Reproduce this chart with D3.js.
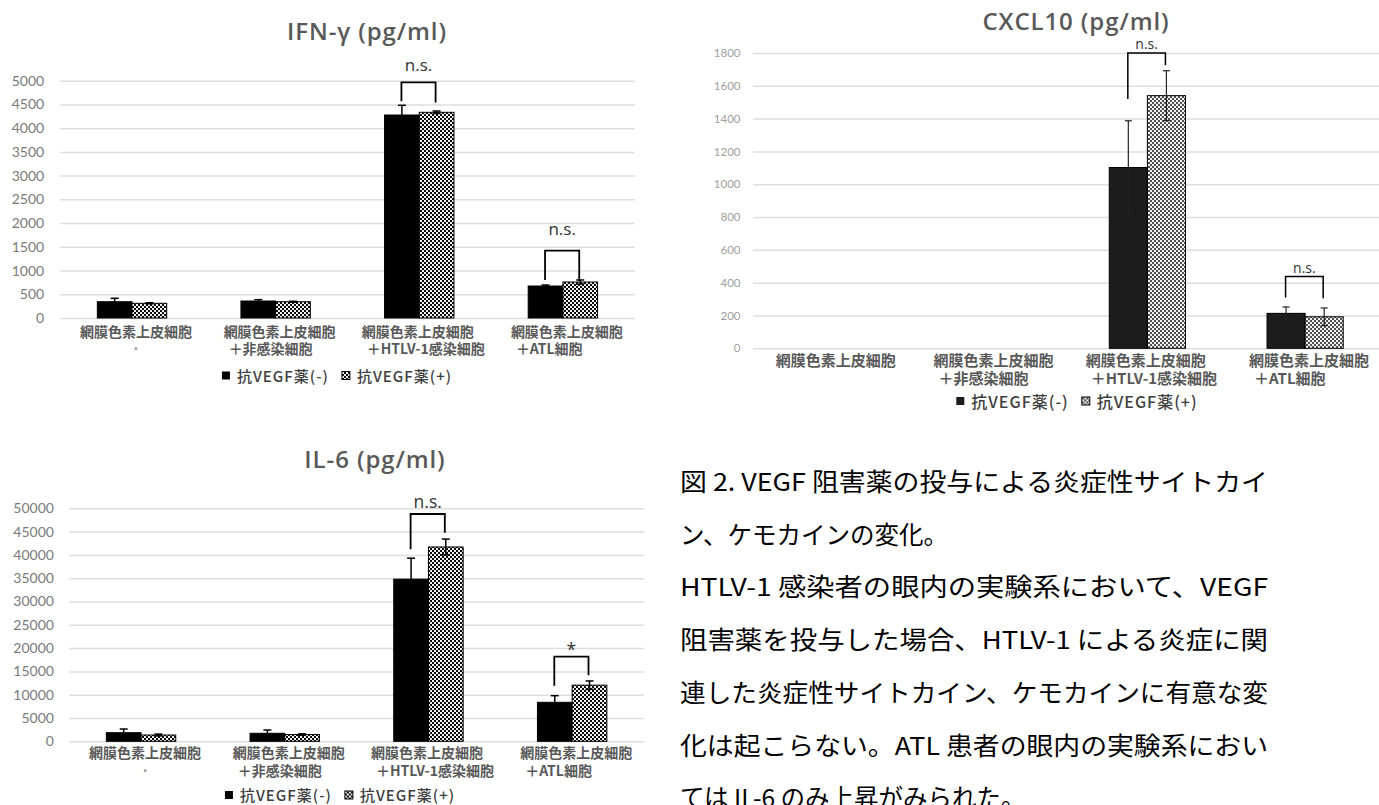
<!DOCTYPE html>
<html>
<head>
<meta charset="utf-8">
<script src="https://cdn.jsdelivr.net/npm/d3@7"></script>
<style>
  html, body { margin: 0; padding: 0; background: #fff; }
  svg { display: block; }
</style>
</head>
<body>
<svg id="fig" width="1379" height="805"></svg>
<script>
// ---- data ----------------------------------------------------------
const seriesNames = ["抗VEGF薬(-)", "抗VEGF薬(+)"];

const categoriesDotted = [
  ["網膜色素上皮細胞", "·"],
  ["網膜色素上皮細胞", "＋非感染細胞"],
  ["網膜色素上皮細胞", "＋HTLV-1感染細胞"],
  ["網膜色素上皮細胞", "＋ATL細胞"]
];
const categories = [
  ["網膜色素上皮細胞"],
  ["網膜色素上皮細胞", "＋非感染細胞"],
  ["網膜色素上皮細胞", "＋HTLV-1感染細胞"],
  ["網膜色素上皮細胞", "＋ATL細胞"]
];

// IFN-γ
const ifnTicks = [0, 500, 1000, 1500, 2000, 2500, 3000, 3500, 4000, 4500, 5000];
const ifnNoDrug = [343, 358, 4277, 674];
const ifnNoDrugErr = [72, 28, 205, 21];
const ifnDrug = [310, 343, 4334, 758];
const ifnDrugErr = [12, 10, 27, 43];
const ifnSig = ["", "", "n.s.", "n.s."];
const ifnBracketTop = [0, 0, 4966, 1418];
const ifnBracketLeft = [0, 0, 4566, 800];
const ifnBracketRight = [0, 0, 4540, 780];

// CXCL10
const cxclTicks = [0, 200, 400, 600, 800, 1000, 1200, 1400, 1600, 1800];
const cxclNoDrug = [0, 0, 1102, 213];
const cxclNoDrugErr = [0, 0, 285, 39];
const cxclDrug = [0, 0, 1540, 192];
const cxclDrugErr = [0, 0, 152, 54];
const cxclSig = ["", "", "n.s.", "n.s."];
const cxclBracketTop = [0, 0, 1800, 437];
const cxclBracketLeft = [0, 0, 1520, 309];
const cxclBracketRight = [0, 0, 1725, 305];

// IL-6
const il6Ticks = [0, 5000, 10000, 15000, 20000, 25000, 30000, 35000, 40000, 45000, 50000];
const il6NoDrug = [1850, 1720, 34800, 8370];
const il6NoDrugErr = [790, 700, 4500, 1420];
const il6Drug = [1350, 1450, 41700, 12050];
const il6DrugErr = [200, 150, 1700, 900];
const il6Sig = ["", "", "n.s.", "*"];
const il6BracketTop = [0, 0, 48780, 18150];
const il6BracketLeft = [0, 0, 41200, 11930];
const il6BracketRight = [0, 0, 44760, 14160];

const captionLines = [
  "図 2. VEGF 阻害薬の投与による炎症性サイトカイ",
  "ン、ケモカインの変化。",
  "HTLV-1 感染者の眼内の実験系において、VEGF",
  "阻害薬を投与した場合、HTLV-1 による炎症に関",
  "連した炎症性サイトカイン、ケモカインに有意な変",
  "化は起こらない。ATL 患者の眼内の実験系におい",
  "ては IL-6 のみ上昇がみられた。"
];

// ---- drawing -------------------------------------------------------
const CJK = "'Noto Sans CJK JP', 'Noto Sans', sans-serif";
const svg = d3.select("#fig");
svg.append("rect").attr("width", 1379).attr("height", 805).attr("fill", "#fff");
const defs = svg.append("defs");

// small checker fill used for the "with drug" bars
function makePattern(id, dark) {
  const p = defs.append("pattern").attr("id", id)
    .attr("patternUnits", "userSpaceOnUse").attr("width", 4).attr("height", 4);
  p.append("rect").attr("width", 4).attr("height", 4).attr("fill", dark);
  p.append("rect").attr("x", 0).attr("y", 0).attr("width", 2).attr("height", 2).attr("fill", "#f2f2f2");
  p.append("rect").attr("x", 2).attr("y", 2).attr("width", 2).attr("height", 2).attr("fill", "#f2f2f2");
}
makePattern("dotsDark", "#0a0a0a");
makePattern("dotsLight", "#505050");

const charts = [
  {
    title: "IFN-γ (pg/ml)", titleX: 367, titleY: 40,
    categories: categoriesDotted, ticks: ifnTicks,
    noDrug: ifnNoDrug, noDrugErr: ifnNoDrugErr, drug: ifnDrug, drugErr: ifnDrugErr,
    sig: ifnSig, brTop: ifnBracketTop, brLeft: ifnBracketLeft, brRight: ifnBracketRight,
    sigLift: [0, 0, 11, 16], sigSize: 17,
    xRange: [60.2, 634.7], yRange: [318, 80.7], gridRight: 634.7,
    tickPad: 16, tickSize: 14, tickColor: "#7a7a7a",
    labelSize: 14, labelBase: [337, 353.5],
    solid: "#000", pattern: "dotsDark", errColor: "#000", errWidth: 1.5, capW: 8,
    legendX: 337, legendY: 376, legendSize: 15
  },
  {
    title: "CXCL10 (pg/ml)", titleX: 1076, titleY: 30,
    categories: categories, ticks: cxclTicks,
    noDrug: cxclNoDrug, noDrugErr: cxclNoDrugErr, drug: cxclDrug, drugErr: cxclDrugErr,
    sig: cxclSig, brTop: cxclBracketTop, brLeft: cxclBracketLeft, brRight: cxclBracketRight,
    sigLift: [0, 0, 4, 4], sigSize: 14,
    xRange: [753, 1384], yRange: [348.3, 53], gridRight: 1384,
    tickPad: 12.5, tickSize: 11.5, tickColor: "#a0a0a0",
    labelSize: 15, labelBase: [365.7, 384],
    solid: "#1c1c1c", pattern: "dotsLight", errColor: "#222", errWidth: 1.2, capW: 7,
    legendX: 1077, legendY: 401.5, legendSize: 16
  },
  {
    title: "IL-6 (pg/ml)", titleX: 375, titleY: 468,
    categories: categoriesDotted, ticks: il6Ticks,
    noDrug: il6NoDrug, noDrugErr: il6NoDrugErr, drug: il6Drug, drugErr: il6DrugErr,
    sig: il6Sig, brTop: il6BracketTop, brLeft: il6BracketLeft, brRight: il6BracketRight,
    sigLift: [0, 0, 6, 1], sigSize: 17.5,
    xRange: [69.2, 644], yRange: [741.3, 508.3], gridRight: 644,
    tickPad: 15.3, tickSize: 14, tickColor: "#7a7a7a",
    labelSize: 14, labelBase: [758.3, 775.5],
    solid: "#000", pattern: "dotsDark", errColor: "#000", errWidth: 1.5, capW: 8,
    legendX: 340, legendY: 795.5, legendSize: 15
  }
];

function drawChart(c) {
  const g = svg.append("g");
  const x0 = d3.scaleBand().domain(d3.range(c.categories.length)).range(c.xRange);
  const x1 = d3.scaleBand().domain([0, 1]).range([0, x0.bandwidth()]).paddingOuter(1.07);
  const y = d3.scaleLinear().domain([0, c.ticks[c.ticks.length - 1]]).range(c.yRange);

  // gridlines and value labels
  const axis = d3.axisLeft(y).tickValues(c.ticks)
    .tickSize(-(c.gridRight - c.xRange[0])).tickPadding(c.tickPad)
    .tickFormat(d3.format("d"));
  const ag = g.append("g").attr("transform", `translate(${c.xRange[0]},0)`).call(axis);
  ag.select(".domain").remove();
  ag.selectAll(".tick line").attr("stroke", "#dedede").attr("stroke-width", 1.5);
  ag.selectAll(".tick text").attr("fill", c.tickColor)
    .style("font-family", "Lato, 'Open Sans', sans-serif").style("font-size", c.tickSize + "px");

  // title
  svg.append("text").attr("x", c.titleX).attr("y", c.titleY)
    .attr("text-anchor", "middle").attr("fill", "#595959")
    .style("font-family", "'Open Sans', sans-serif").style("font-weight", 600)
    .style("font-size", "24px").style("letter-spacing", "0.9px")
    .text(c.title);

  const series = [
    { vals: c.noDrug, errs: c.noDrugErr, fill: c.solid },
    { vals: c.drug, errs: c.drugErr, fill: `url(#${c.pattern})` }
  ];
  const bw = x1.bandwidth();

  series.forEach((s, si) => {
    const rows = s.vals.map((v, i) => ({ i, v, e: s.errs[i] })).filter(d => d.v > 0);
    g.selectAll(null).data(rows).join("rect")
      .attr("x", d => x0(d.i) + x1(si))
      .attr("y", d => y(d.v))
      .attr("width", bw)
      .attr("height", d => y(0) - y(d.v))
      .attr("fill", s.fill)
      .attr("stroke", "#000").attr("stroke-width", 1);
  });

  // error bars
  series.forEach((s, si) => {
    const rows = s.vals.map((v, i) => ({ i, v, e: s.errs[i] })).filter(d => d.v > 0 && d.e > 0);
    const eg = g.selectAll(null).data(rows).join("g")
      .attr("stroke", c.errColor).attr("stroke-width", c.errWidth);
    const cx = d => x0(d.i) + x1(si) + bw / 2;
    eg.append("line").attr("x1", cx).attr("x2", cx)
      .attr("y1", d => y(Math.max(0, d.v - d.e))).attr("y2", d => y(d.v + d.e));
    eg.append("line").attr("x1", d => cx(d) - c.capW / 2).attr("x2", d => cx(d) + c.capW / 2)
      .attr("y1", d => y(d.v + d.e)).attr("y2", d => y(d.v + d.e));
    eg.append("line").attr("x1", d => cx(d) - c.capW / 2).attr("x2", d => cx(d) + c.capW / 2)
      .attr("y1", d => y(Math.max(0, d.v - d.e))).attr("y2", d => y(Math.max(0, d.v - d.e)));
  });

  // significance brackets
  c.sig.forEach((label, i) => {
    if (!label) return;
    const xl = x0(i) + x1(0) + bw / 2 - 0.5;
    const xr = x0(i) + x1(1) + bw / 2 - 1;
    g.append("path")
      .attr("d", `M${xl},${y(c.brLeft[i])}V${y(c.brTop[i])}H${xr}V${y(c.brRight[i])}`)
      .attr("fill", "none").attr("stroke", "#000").attr("stroke-width", c.errWidth + 0.3);
    g.append("text").attr("x", (xl + xr) / 2).attr("y", y(c.brTop[i]) - c.sigLift[i])
      .attr("text-anchor", "middle").attr("fill", "#333")
      .style("font-family", "'Open Sans', sans-serif").style("font-size", c.sigSize + "px")
      .text(label);
  });

  // category labels: a left-aligned block of lines centred on its band
  c.categories.forEach((lines, i) => {
    const center = x0(i) + x0.bandwidth() / 2 + 4;
    const nodes = lines.map((ln, li) => g.append("text")
      .attr("y", c.labelBase[li]).attr("fill", lines[li].length === 1 ? "#9a9a9a" : "#595959")
      .style("font-family", CJK).style("font-weight", 700)
      .style("font-size", c.labelSize + "px").text(ln));
    const widths = nodes.map((t, li) =>
      lines[li].length === 1 ? 0 : t.node().getComputedTextLength() + (li > 0 ? 5 : 0));
    const left = center - d3.max(widths) / 2;
    nodes.forEach((t, li) => {
      if (lines[li].length === 1) t.attr("x", center).attr("text-anchor", "middle");
      else t.attr("x", left + (li > 0 ? 5 : 0));
    });
  });

  // legend
  const lg = svg.append("g");
  const sq = 8, gap = 7, itemGap = 13;
  let pos = 0;
  seriesNames.forEach((name, si) => {
    lg.append("rect").attr("x", pos).attr("y", -sq / 2 - 0.5).attr("width", sq).attr("height", sq)
      .attr("fill", si === 0 ? c.solid : `url(#${c.pattern})`)
      .attr("stroke", "#000").attr("stroke-width", si === 0 ? 0 : 1);
    const t = lg.append("text").attr("x", pos + sq + gap).attr("y", c.legendSize * 0.38)
      .attr("fill", "#404040")
      .style("font-family", CJK).style("font-weight", 500)
      .style("font-size", c.legendSize + "px").style("letter-spacing", "1px")
      .text(name);
    pos += sq + gap + t.node().getComputedTextLength() + itemGap;
  });
  const total = pos - itemGap;
  lg.attr("transform", `translate(${c.legendX - total / 2},${c.legendY})`);
}

// figure caption, justified lines stretched to the column width
function drawCaption() {
  const cg = svg.append("g")
    .style("font-family", CJK).style("font-size", "24.5px").style("font-weight", 400)
    .attr("fill", "#000");
  const justified = [true, false, true, true, true, true, false];
  captionLines.forEach((ln, i) => {
    const t = cg.append("text").attr("x", 680).attr("y", 491 + i * 52.7).text(ln);
    if (justified[i]) t.attr("textLength", 588).attr("lengthAdjust", "spacingAndGlyphs");
  });
}

function draw() {
  charts.forEach(drawChart);
  drawCaption();
}
if (document.fonts && document.fonts.ready) document.fonts.ready.then(draw); else draw();
</script>
</body>
</html>
